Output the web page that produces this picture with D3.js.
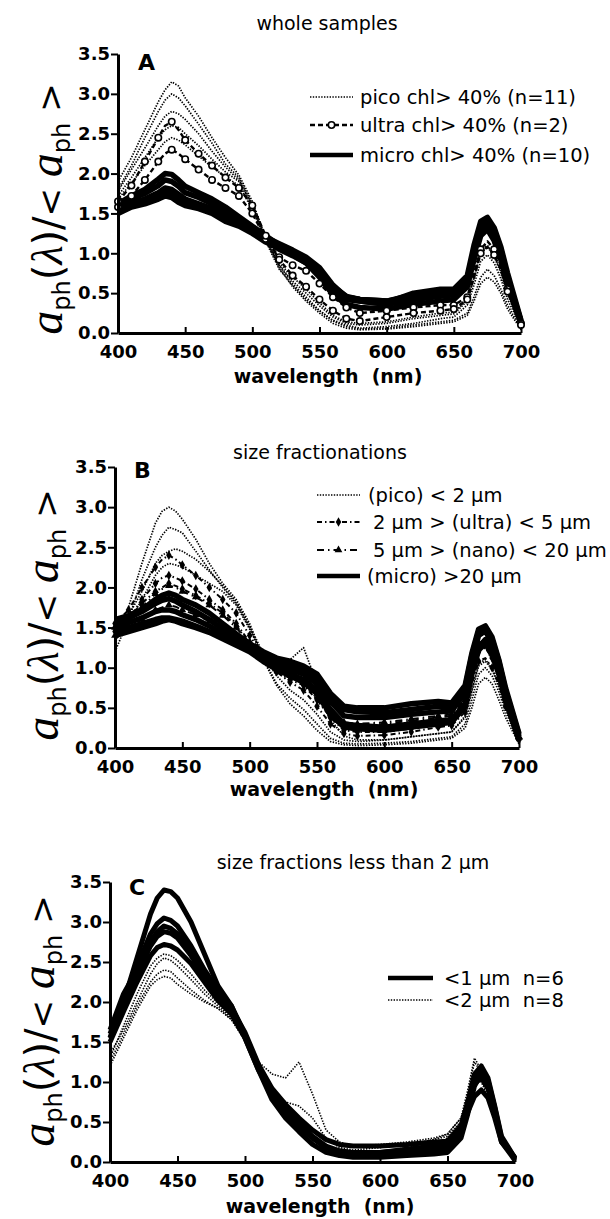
<!DOCTYPE html>
<html>
<head>
<meta charset="utf-8">
<script src="https://cdn.jsdelivr.net/npm/d3@7"></script>
<style>
  body { margin: 0; background: #fff; }
  svg { display: block; }
</style>
</head>
<body>
<svg id="fig" width="610" height="1219"></svg>
<script>
// ---- shared axes -------------------------------------------------------
const wavelengths = [400,410,420,430,435,440,445,450,460,470,480,490,500,510,520,530,540,550,560,570,580,600,620,640,650,660,665,670,675,680,685,690,700];
const xTicks = [400,450,500,550,600,650,700];
const yTicks = [0,0.5,1,1.5,2,2.5,3,3.5];

// ---- A: whole samples ----------------------------------------------------
const aPico = [
  [1.90,2.20,2.55,2.90,3.05,3.15,3.10,2.95,2.72,2.45,2.20,1.98,1.65,1.20,0.85,0.62,0.45,0.28,0.15,0.08,0.05,0.06,0.10,0.14,0.16,0.25,0.45,0.70,0.80,0.72,0.55,0.35,0.05],
  [1.80,2.10,2.45,2.78,2.92,3.00,2.95,2.85,2.62,2.38,2.12,1.95,1.62,1.18,0.82,0.58,0.40,0.25,0.12,0.06,0.04,0.05,0.08,0.12,0.14,0.22,0.40,0.62,0.70,0.64,0.50,0.30,0.04],
  [1.78,2.05,2.32,2.60,2.72,2.78,2.75,2.68,2.50,2.28,2.08,1.92,1.60,1.15,0.80,0.60,0.42,0.28,0.16,0.10,0.06,0.08,0.12,0.18,0.20,0.35,0.60,0.90,0.98,0.88,0.68,0.42,0.08],
  [1.72,1.95,2.20,2.45,2.55,2.60,2.58,2.50,2.35,2.18,2.02,1.90,1.58,1.16,0.85,0.65,0.50,0.34,0.20,0.12,0.10,0.12,0.18,0.22,0.24,0.40,0.68,1.00,1.08,0.96,0.75,0.48,0.10],
  [1.68,1.88,2.10,2.30,2.40,2.45,2.42,2.36,2.22,2.08,1.96,1.85,1.55,1.15,0.88,0.70,0.55,0.38,0.22,0.14,0.12,0.14,0.20,0.25,0.26,0.42,0.70,1.05,1.10,0.98,0.78,0.50,0.12]
];
const aUltra = [
  [1.58,1.72,1.92,2.15,2.25,2.30,2.25,2.18,2.05,1.92,1.82,1.72,1.50,1.18,0.95,0.85,0.78,0.62,0.45,0.32,0.25,0.28,0.32,0.35,0.35,0.45,0.75,1.05,1.15,1.05,0.85,0.55,0.12],
  [1.65,1.85,2.15,2.45,2.60,2.65,2.55,2.42,2.25,2.10,1.95,1.82,1.60,1.22,0.92,0.72,0.58,0.42,0.28,0.18,0.15,0.20,0.25,0.28,0.30,0.42,0.70,1.00,1.08,0.98,0.80,0.52,0.10]
];
const aMicro = [
  [1.52,1.60,1.64,1.70,1.76,1.74,1.68,1.62,1.58,1.52,1.42,1.36,1.27,1.16,1.05,0.97,0.88,0.72,0.52,0.42,0.40,0.36,0.42,0.46,0.48,0.62,0.95,1.25,1.32,1.18,0.95,0.62,0.12],
  [1.55,1.62,1.66,1.74,1.80,1.78,1.72,1.65,1.60,1.54,1.44,1.37,1.28,1.17,1.07,0.98,0.88,0.70,0.48,0.36,0.32,0.30,0.36,0.40,0.42,0.58,0.92,1.22,1.30,1.16,0.92,0.60,0.12],
  [1.56,1.63,1.68,1.76,1.82,1.80,1.74,1.68,1.62,1.56,1.46,1.38,1.29,1.18,1.08,1.00,0.92,0.78,0.58,0.46,0.42,0.40,0.48,0.52,0.52,0.68,1.05,1.35,1.42,1.30,1.05,0.70,0.15],
  [1.50,1.58,1.62,1.68,1.72,1.70,1.64,1.60,1.56,1.50,1.40,1.34,1.25,1.14,1.06,1.00,0.92,0.78,0.56,0.45,0.42,0.40,0.46,0.50,0.50,0.66,1.02,1.32,1.40,1.28,1.02,0.68,0.14],
  [1.60,1.68,1.75,1.85,1.92,1.90,1.84,1.76,1.70,1.62,1.52,1.42,1.32,1.20,1.12,1.04,0.95,0.82,0.60,0.45,0.42,0.38,0.50,0.55,0.55,0.72,1.10,1.40,1.45,1.32,1.08,0.75,0.16],
  [1.62,1.72,1.80,1.93,2.00,1.99,1.92,1.84,1.76,1.68,1.58,1.46,1.34,1.22,1.10,1.00,0.90,0.75,0.55,0.43,0.40,0.36,0.44,0.50,0.50,0.66,1.00,1.30,1.38,1.25,1.00,0.68,0.14]
];

// ---- B: size fractionations ---------------------------------------------
const bPico = [
  [1.30,1.75,2.30,2.80,2.95,3.00,2.95,2.85,2.60,2.30,2.05,1.85,1.55,1.10,0.78,0.55,0.40,0.22,0.08,0.04,0.03,0.04,0.06,0.10,0.12,0.25,0.50,0.80,0.88,0.80,0.60,0.38,0.05],
  [1.20,1.60,2.10,2.50,2.65,2.75,2.72,2.68,2.45,2.22,2.00,1.80,1.50,1.12,0.80,0.62,0.48,0.30,0.12,0.06,0.05,0.06,0.08,0.12,0.14,0.30,0.60,0.92,1.00,0.90,0.70,0.45,0.08],
  [1.40,1.65,1.95,2.30,2.40,2.45,2.48,2.45,2.35,2.20,2.02,1.82,1.52,1.18,1.05,1.10,1.25,0.80,0.35,0.15,0.10,0.10,0.14,0.18,0.20,0.38,0.70,1.02,1.08,0.98,0.76,0.50,0.10],
  [1.35,1.55,1.85,2.15,2.25,2.30,2.28,2.25,2.15,2.05,1.95,1.78,1.48,1.15,0.90,0.72,0.60,0.42,0.20,0.10,0.08,0.10,0.14,0.18,0.20,0.40,0.72,1.05,1.10,1.00,0.78,0.50,0.12]
];
const bUltra = [
  [1.45,1.60,1.85,2.05,2.12,2.15,2.12,2.08,1.98,1.85,1.72,1.55,1.32,1.12,0.98,0.88,0.80,0.62,0.38,0.22,0.20,0.20,0.24,0.30,0.32,0.52,0.90,1.20,1.25,1.12,0.90,0.58,0.12],
  [1.55,1.72,2.00,2.25,2.35,2.40,2.35,2.28,2.15,2.00,1.85,1.68,1.40,1.15,0.95,0.82,0.72,0.52,0.30,0.18,0.15,0.16,0.20,0.26,0.28,0.45,0.80,1.08,1.12,1.00,0.80,0.52,0.10],
  [1.50,1.62,1.80,1.95,2.00,2.05,2.02,1.98,1.90,1.80,1.68,1.52,1.30,1.10,0.95,0.85,0.78,0.60,0.38,0.25,0.22,0.24,0.28,0.32,0.34,0.55,0.92,1.22,1.28,1.15,0.92,0.60,0.12]
];
const bNano = [
  [1.50,1.60,1.75,1.92,1.98,2.02,2.00,1.95,1.88,1.78,1.65,1.50,1.30,1.12,1.00,0.92,0.85,0.70,0.45,0.32,0.30,0.32,0.36,0.40,0.42,0.62,1.00,1.30,1.36,1.22,0.98,0.64,0.14],
  [1.40,1.50,1.60,1.72,1.75,1.78,1.76,1.72,1.66,1.58,1.50,1.40,1.26,1.10,0.98,0.90,0.84,0.68,0.42,0.30,0.28,0.30,0.34,0.38,0.40,0.60,0.98,1.28,1.32,1.18,0.95,0.62,0.13]
];
const bMicro = [
  [1.40,1.45,1.50,1.55,1.58,1.60,1.58,1.55,1.50,1.44,1.36,1.28,1.20,1.08,0.98,0.90,0.82,0.68,0.42,0.26,0.24,0.22,0.26,0.30,0.32,0.52,0.92,1.22,1.30,1.16,0.92,0.60,0.10],
  [1.45,1.50,1.55,1.60,1.62,1.62,1.60,1.58,1.52,1.45,1.38,1.30,1.22,1.10,1.00,0.92,0.85,0.72,0.48,0.30,0.28,0.26,0.30,0.34,0.35,0.55,0.95,1.25,1.35,1.20,0.95,0.62,0.10],
  [1.50,1.56,1.62,1.70,1.72,1.72,1.70,1.66,1.60,1.52,1.42,1.35,1.25,1.14,1.05,0.98,0.92,0.80,0.58,0.40,0.38,0.38,0.42,0.45,0.46,0.70,1.10,1.40,1.46,1.30,1.05,0.70,0.14],
  [1.55,1.62,1.70,1.80,1.84,1.86,1.83,1.78,1.70,1.60,1.48,1.38,1.28,1.18,1.10,1.04,0.98,0.86,0.62,0.48,0.45,0.44,0.48,0.52,0.52,0.75,1.15,1.45,1.50,1.35,1.08,0.72,0.16],
  [1.60,1.65,1.72,1.85,1.90,1.93,1.90,1.85,1.78,1.68,1.55,1.42,1.30,1.20,1.12,1.08,1.02,0.92,0.68,0.52,0.50,0.50,0.55,0.58,0.56,0.78,1.18,1.48,1.52,1.38,1.10,0.75,0.18]
];

// ---- C: fractions below 2 µm --------------------------------------------
const cLess1 = [
  [1.55,2.00,2.55,3.10,3.30,3.40,3.38,3.30,3.00,2.60,2.20,1.95,1.55,1.15,0.78,0.55,0.38,0.22,0.12,0.08,0.06,0.06,0.08,0.10,0.12,0.30,0.60,0.95,1.10,0.95,0.60,0.25,0.02],
  [1.60,2.05,2.45,2.85,2.98,3.05,3.02,2.95,2.70,2.40,2.15,1.95,1.60,1.18,0.85,0.62,0.45,0.30,0.18,0.12,0.10,0.10,0.12,0.15,0.16,0.35,0.70,1.05,1.18,1.02,0.68,0.30,0.04],
  [1.65,2.10,2.40,2.75,2.88,2.95,2.92,2.85,2.62,2.35,2.10,1.92,1.62,1.22,0.92,0.72,0.55,0.40,0.28,0.22,0.20,0.20,0.22,0.25,0.26,0.45,0.75,1.10,1.20,1.05,0.70,0.32,0.05],
  [1.55,1.95,2.35,2.70,2.82,2.88,2.86,2.80,2.58,2.32,2.08,1.90,1.58,1.20,0.90,0.68,0.50,0.32,0.20,0.14,0.12,0.12,0.15,0.18,0.20,0.38,0.68,0.98,1.05,0.92,0.62,0.28,0.05],
  [1.50,1.88,2.25,2.58,2.68,2.72,2.70,2.65,2.48,2.25,2.02,1.85,1.55,1.15,0.85,0.62,0.45,0.30,0.18,0.12,0.10,0.12,0.16,0.20,0.22,0.40,0.62,0.82,0.90,0.80,0.55,0.25,0.05]
];
const cLess2 = [
  [1.30,1.70,2.10,2.45,2.55,2.60,2.58,2.52,2.35,2.15,1.98,1.80,1.55,1.25,1.10,1.05,1.25,0.85,0.40,0.25,0.20,0.22,0.25,0.30,0.35,0.55,0.90,1.30,1.15,0.90,0.60,0.30,0.08],
  [1.20,1.55,1.90,2.20,2.28,2.32,2.30,2.22,2.10,2.00,1.92,1.78,1.52,1.18,0.90,0.75,0.70,0.55,0.30,0.18,0.15,0.18,0.22,0.28,0.32,0.50,0.85,1.25,1.12,0.90,0.62,0.32,0.08],
  [1.35,1.65,2.00,2.35,2.48,2.55,2.52,2.45,2.28,2.10,1.95,1.80,1.55,1.20,0.88,0.62,0.45,0.30,0.18,0.12,0.10,0.12,0.18,0.28,0.35,0.55,0.80,1.10,1.02,0.85,0.58,0.30,0.06],
  [1.25,1.60,1.95,2.25,2.35,2.40,2.38,2.30,2.15,2.02,1.92,1.78,1.52,1.15,0.82,0.58,0.42,0.28,0.15,0.10,0.08,0.10,0.15,0.22,0.30,0.50,0.78,1.05,1.00,0.82,0.55,0.28,0.06]
];

// ---- line styles ---------------------------------------------------------
const styles = {
  pico:  { width: 1.7, dash: "1.4 1.4" },
  ultraA:{ width: 2.4, dash: "5 3", marker: "circle" },
  ultraB:{ width: 2, dash: "5 3 1.5 3", marker: "diamond" },
  nano:  { width: 2, dash: "7 4 1.5 4", marker: "triangle" },
  micro: { width: 5.5, dash: null },
  thin:  { width: 1.6, dash: "1.4 1.4" },
  thick: { width: 5, dash: null }
};

const panels = [
  {
    x0: 118, x1: 521, yb: 333, yt: 54,
    title: "whole samples", titleX: 327, titleY: 30,
    label: "A", labelX: 138, labelY: 70,
    xlabX: 328, xlabY: 383, ytX: 62, ytY: 209,
    groups: [
      { data: aMicro, style: styles.micro },
      { data: aPico, style: styles.pico },
      { data: aUltra, style: styles.ultraA }
    ],
    legend: { lx0: 310, lx1: 353, tx: 360, rows: [
      { y: 97, style: { width: 1.4, dash: "1.4 1.4" }, text: "pico chl> 40% (n=11)" },
      { y: 125, style: styles.ultraA, text: "ultra chl> 40% (n=2)" },
      { y: 155, style: { width: 4.5, dash: null }, text: "micro chl> 40% (n=10)" }
    ]}
  },
  {
    x0: 115, x1: 519, yb: 748, yt: 467,
    title: "size fractionations", titleX: 320, titleY: 459,
    label: "B", labelX: 134, labelY: 478,
    xlabX: 324, xlabY: 796, ytX: 58, ytY: 615,
    groups: [
      { data: bMicro, style: styles.micro },
      { data: bPico, style: styles.pico },
      { data: bNano, style: styles.nano },
      { data: bUltra, style: styles.ultraB }
    ],
    legend: { lx0: 317, lx1: 360, tx: 368, rows: [
      { y: 495, style: { width: 1.4, dash: "1.4 1.4" }, text: "(pico) < 2 µm", tx: 368 },
      { y: 522, style: styles.ultraB, text: "2 µm > (ultra) < 5 µm", tx: 373 },
      { y: 550, style: styles.nano, text: "5 µm > (nano) < 20 µm", tx: 373 },
      { y: 576, style: { width: 4.5, dash: null }, text: "(micro) >20 µm", tx: 367 }
    ]}
  },
  {
    x0: 110, x1: 515, yb: 1162, yt: 882,
    title: "size fractions less than 2 µm", titleX: 353, titleY: 869,
    label: "C", labelX: 129, labelY: 895,
    xlabX: 320, xlabY: 1213, ytX: 54, ytY: 1021,
    groups: [
      { data: cLess2, style: styles.thin },
      { data: cLess1, style: styles.thick }
    ],
    legend: { lx0: 388, lx1: 433, tx: 444, rows: [
      { y: 978, style: { width: 4.5, dash: null }, text: "<1 µm  n=6" },
      { y: 1000, style: { width: 1.4, dash: "1.4 1.4" }, text: "<2 µm  n=8" }
    ]}
  }
];

const svg = d3.select("#fig");
const sans = "'DejaVu Sans', sans-serif";

function drawMarker(g, kind, cx, cy) {
  if (kind === "circle") {
    g.append("circle").attr("cx", cx).attr("cy", cy).attr("r", 3.2)
      .attr("fill", "#fff").attr("stroke", "#000").attr("stroke-width", 1.6);
  } else if (kind === "diamond") {
    g.append("path").attr("transform", `translate(${cx},${cy})`)
      .attr("d", d3.symbol(d3.symbolDiamond, 26)()).attr("fill", "#000");
  } else if (kind === "triangle") {
    g.append("path").attr("transform", `translate(${cx},${cy})`)
      .attr("d", d3.symbol(d3.symbolTriangle, 26)()).attr("fill", "#000");
  }
}

panels.forEach(p => {
  const x = d3.scaleLinear().domain([400, 700]).range([p.x0, p.x1]);
  const y = d3.scaleLinear().domain([0, 3.5]).range([p.yb, p.yt]);
  const g = svg.append("g");

  const line = d3.line()
    .defined(d => d[1] != null)
    .x(d => x(d[0])).y(d => y(d[1]));

  // spectra
  p.groups.forEach(grp => {
    grp.data.forEach(vals => {
      const pts = wavelengths.map((w, i) => [w, vals[i]]);
      g.append("path").datum(pts)
        .attr("d", line)
        .attr("fill", "none").attr("stroke", "#000")
        .attr("stroke-width", grp.style.width)
        .attr("stroke-linejoin", "round")
        .attr("stroke-dasharray", grp.style.dash);
      if (grp.style.marker) {
        pts.filter(d => d[0] % 10 === 0).forEach(d => drawMarker(g, grp.style.marker, x(d[0]), y(d[1])));
      }
    });
  });

  // axes
  const xAxis = d3.axisBottom(x).tickValues(xTicks).tickSizeInner(-6).tickSizeOuter(0).tickPadding(12);
  const yAxis = d3.axisLeft(y).tickValues(yTicks).tickSizeInner(7).tickSizeOuter(0).tickPadding(1)
    .tickFormat(d3.format(".1f"));

  const gx = g.append("g").attr("transform", `translate(0,${p.yb})`).call(xAxis);
  const gy = g.append("g").attr("transform", `translate(${p.x0},0)`).call(yAxis);
  [gx, gy].forEach(a => {
    a.select(".domain").attr("stroke-width", 3);
    a.selectAll(".tick line").attr("stroke-width", 2);
    a.selectAll(".tick text").attr("font-family", sans).attr("font-weight", "bold")
      .attr("font-size", 18).attr("fill", "#000");
  });

  // titles and labels
  g.append("text").attr("x", p.titleX).attr("y", p.titleY).attr("text-anchor", "middle")
    .attr("font-family", sans).attr("font-size", 19).text(p.title);
  g.append("text").attr("x", p.labelX).attr("y", p.labelY)
    .attr("font-family", sans).attr("font-weight", "bold").attr("font-size", 22).text(p.label);
  g.append("text").attr("x", p.xlabX).attr("y", p.xlabY).attr("text-anchor", "middle")
    .attr("font-family", sans).attr("font-weight", "bold").attr("font-size", 19)
    .attr("xml:space", "preserve").text("wavelength  (nm)");

  // y-axis title: a_ph(λ)/< a_ph >
  const yt = g.append("text")
    .attr("transform", `translate(${p.ytX},${p.ytY}) rotate(-90)`)
    .attr("text-anchor", "middle").attr("font-family", sans).attr("font-size", 40);
  const serifIt = sel => sel.attr("font-family", "'Liberation Serif', serif").attr("font-style", "italic");
  yt.append("tspan").call(serifIt).attr("font-size", 48).text("a");
  yt.append("tspan").attr("font-size", 24).attr("dy", 8).text("ph");
  yt.append("tspan").attr("dy", -8).text("(");
  yt.append("tspan").call(serifIt).attr("font-size", 44).text("λ");
  yt.append("tspan").text(")/");
  yt.append("tspan").attr("font-size", 34).text("< ");
  yt.append("tspan").call(serifIt).attr("font-size", 48).text("a");
  yt.append("tspan").attr("font-size", 24).attr("dy", 8).text("ph");
  yt.append("tspan").attr("dy", -8).attr("font-size", 34).text(" >");

  // legend
  const L = p.legend;
  L.rows.forEach(r => {
    g.append("line").attr("x1", L.lx0).attr("x2", L.lx1).attr("y1", r.y).attr("y2", r.y)
      .attr("stroke", "#000").attr("stroke-width", r.style.width)
      .attr("stroke-dasharray", r.style.dash);
    if (r.style.marker) drawMarker(g, r.style.marker, (L.lx0 + L.lx1) / 2, r.y);
    g.append("text").attr("x", r.tx || L.tx).attr("y", r.y + 7)
      .attr("font-family", sans).attr("font-size", 19.5)
      .attr("xml:space", "preserve").text(r.text);
  });
});
</script>
</body>
</html>
